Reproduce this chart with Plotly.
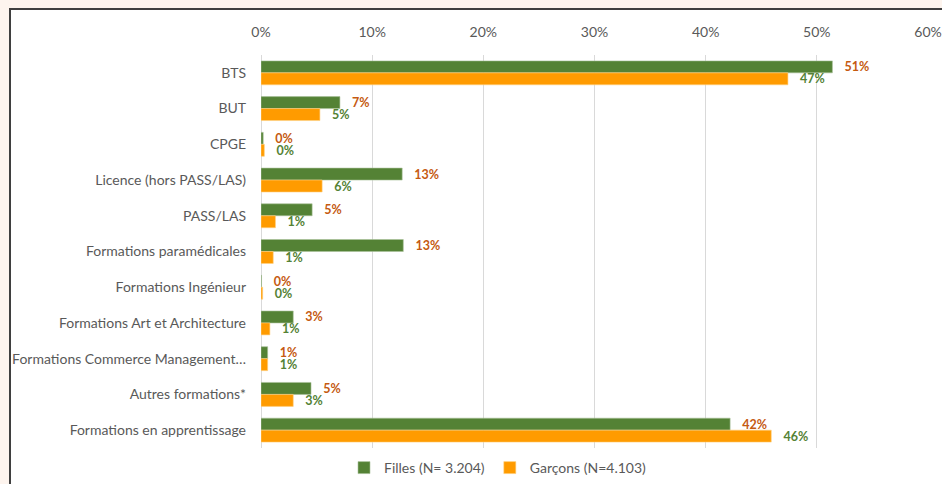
import plotly.graph_objects as go

categories = ["BTS", "BUT", "CPGE", "Licence (hors PASS/LAS)", "PASS/LAS",
              "Formations paramédicales", "Formations Ingénieur",
              "Formations Art et Architecture", "Formations Commerce Management…",
              "Autres formations*", "Formations en apprentissage"]
filles_pct = [51.4, 7.1, 0.2, 12.7, 4.6, 12.8, 0.05, 2.9, 0.6, 4.5, 42.2]
garcons_pct = [47.4, 5.3, 0.3, 5.5, 1.3, 1.1, 0.15, 0.8, 0.6, 2.9, 45.9]
x_ticks = [0, 0.1, 0.2, 0.3, 0.4, 0.5, 0.6]

GREEN = "#548235"
ORANGE = "#FF9B00"
ORANGE_TXT = "#C55A11"
FONT = "Lato"

W, H = 942, 484
L, R, T, B = 261, 14, 55, 36
pw, ph = W - L - R, H - T - B

def px_x(p):
    return (p - L) / pw

def px_y(p):
    return (H - B - p) / ph

fig = go.Figure()
fig.add_trace(go.Bar(
    y=categories, x=[v / 100 for v in filles_pct], orientation="h",
    name="Filles (N= 3.204)", marker=dict(color=GREEN, line=dict(color="#A9C19A", width=0.6)),
    texttemplate="\u00a0\u00a0\u00a0%{x:.0%}", textposition="outside", cliponaxis=False,
    constraintext="none",
    textfont=dict(color=ORANGE_TXT, size=12.5, family=FONT, weight="bold"),
))
fig.add_trace(go.Bar(
    y=categories, x=[v / 100 for v in garcons_pct], orientation="h",
    name="Garçons (N=4.103)", marker=dict(color=ORANGE, line=dict(color="#FFD080", width=0.6)),
    texttemplate="\u00a0\u00a0\u00a0%{x:.0%}", textposition="outside", cliponaxis=False,
    constraintext="none",
    textfont=dict(color=GREEN, size=12.5, family=FONT, weight="bold"),
))

fig.add_shape(type="rect", xref="paper", yref="paper",
              x0=px_x(10), x1=px_x(960), y0=px_y(500), y1=px_y(9),
              fillcolor="white", line=dict(color="#3F3F3F", width=2), layer="below")

fig.update_layout(
    width=W, height=H,
    margin=dict(l=L, r=R, t=T, b=B, autoexpand=False),
    paper_bgcolor="#FDF4EE", plot_bgcolor="rgba(0,0,0,0)",
    barmode="group", bargap=0.33, bargroupgap=0,
    font=dict(family=FONT, size=14, color="#595959"),
    showlegend=True,
    legend=dict(orientation="h", x=px_x(344), xanchor="left", y=px_y(468), yanchor="middle",
                font=dict(size=14, color="#595959", family=FONT), bgcolor="rgba(0,0,0,0)",
                traceorder="normal", itemwidth=30),
)
fig.update_xaxes(side="top", range=[0, 0.6], tickvals=x_ticks, tickformat=".0%",
                 showgrid=True, gridcolor="#D9D9D9", gridwidth=1,
                 zeroline=True, zerolinecolor="#D9D9D9", zerolinewidth=1,
                 showline=False, ticks="", ticklabelstandoff=14,
                 tickfont=dict(size=14, color="#595959", family=FONT), fixedrange=True)
fig.update_yaxes(autorange="reversed", showgrid=False, showline=False, ticks="",
                 ticklabelstandoff=14, tickfont=dict(size=14, color="#595959", family=FONT))

fig.write_html("out.html", config={"displayModeBar": False},
               post_script="document.body.style.margin='0';document.body.style.overflow='hidden';")
